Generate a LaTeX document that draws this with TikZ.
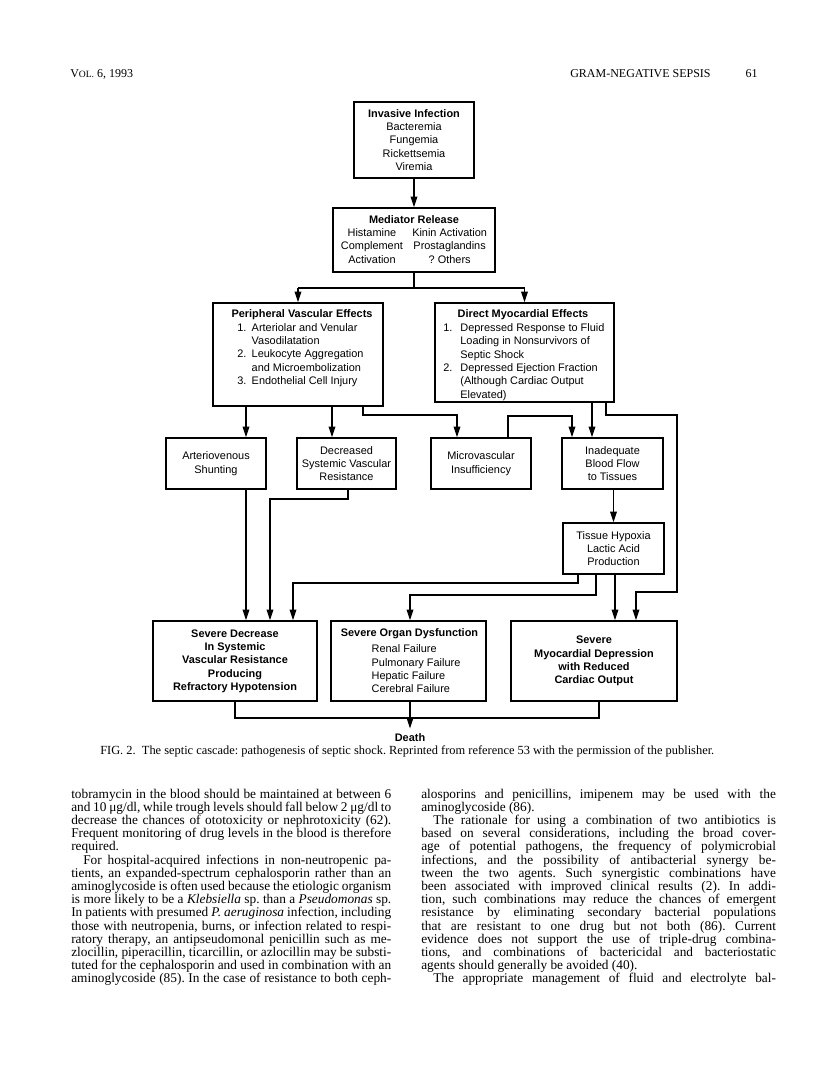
\documentclass[tikz,border=0pt]{standalone}
\usepackage{fontspec}
\setmainfont{Liberation Serif}
\newfontfamily\diagfont{Liberation Sans}
\usetikzlibrary{arrows.meta,fit,calc}
\frenchspacing
\newcommand{\bodyfont}{\fontsize{10}{10}\selectfont\frenchspacing\spaceskip=0.25em plus 0.8em minus 0.15em\relax}
\newcommand{\jlL}[1]{\makebox[240pt][s]{#1}}
\newcommand{\jlR}[1]{\makebox[266pt][s]{#1}}
\tikzset{
  box/.style={draw, line width=1.1pt, inner sep=0pt},
  dtxt/.style={font=\diagfont\fontsize{8.2}{10}\selectfont, align=center, inner sep=0pt},
  dbold/.style={font=\diagfont\bfseries\fontsize{8.2}{10}\selectfont, align=center, inner sep=0pt},
  conn/.style={line width=0.9pt},
  arr/.style={line width=0.9pt, -{Triangle[length=8pt,width=5pt]}},
  body/.style={font=\bodyfont, inner sep=0pt, anchor=base west},
  hdr/.style={font=\fontsize{9}{11}\selectfont, inner sep=0pt},
  captxt/.style={font=\fontsize{9.3}{10}\selectfont\frenchspacing, inner sep=0pt, anchor=base west},
}
\begin{document}
\begin{tikzpicture}[x=0.75pt,y=-0.75pt]
\fill[white] (0,0) rectangle (816,1079);
\useasboundingbox (0,0) rectangle (816,1079);

% running head
\node[hdr, anchor=base west] (hl) at (70,77) {V{\fontsize{7.2}{9}\selectfont OL.} 6, 1993};
\node[hdr, anchor=base west] (hr) at (570,77) {GRAM-NEGATIVE SEPSIS};
\node[hdr, anchor=base east] (pg) at (758,77) {61};

% boxes
\node[box, fit={(354,102)(474,178)}] (inv) {};
\node[box, fit={(333,208)(495,272)}] (med) {};
\node[box, fit={(213,303)(383,406)}] (per) {};
\node[box, fit={(435,303)(614,402)}] (dir) {};
\node[box, fit={(166,438)(266,489)}] (av) {};
\node[box, fit={(297,438)(396,489)}] (dsvr) {};
\node[box, fit={(431,438)(531,489)}] (mic) {};
\node[box, fit={(562,438)(663,489)}] (inad) {};
\node[box, fit={(563,523)(664,574)}] (hyp) {};
\node[box, fit={(153,621)(317,701)}] (sev) {};
\node[box, fit={(331,621)(486,701)}] (org) {};
\node[box, fit={(511,621)(677,701)}] (myo) {};

% box texts
\node[dtxt] (inv-t) at (inv) {\textbf{Invasive Infection}\\Bacteremia\\Fungemia\\Rickettsemia\\Viremia};
\node[dtxt] (med-t) at (414,240.5) {\begin{tabular}{@{}c@{\hspace{7pt}}c@{}}\multicolumn{2}{c}{\textbf{Mediator Release}}\\ Histamine & Kinin Activation\\ Complement & Prostaglandins\\ Activation & ? Others\end{tabular}};
\node[dbold] (per-h) at (302,315) {Peripheral Vascular Effects};
\node[dtxt, anchor=west] (per-t) at (237,355) {\begin{tabular}{@{}l@{\hspace{4pt}}l@{}}1. & Arteriolar and Venular\\ & Vasodilatation\\ 2. & Leukocyte Aggregation\\ & and Microembolization\\ 3. & Endothelial Cell Injury\end{tabular}};
\node[dbold] (dir-h) at (523,315) {Direct Myocardial Effects};
\node[dtxt, anchor=west] (dir-t) at (443,362) {\begin{tabular}{@{}l@{\hspace{6pt}}l@{}}1. & Depressed Response to Fluid\\ & Loading in Nonsurvivors of\\ & Septic Shock\\ 2. & Depressed Ejection Fraction\\ & (Although Cardiac Output\\ & Elevated)\end{tabular}};
\node[dtxt] (av-t) at (av) {Arteriovenous\\Shunting};
\node[dtxt] (dsvr-t) at (dsvr) {Decreased\\Systemic Vascular\\Resistance};
\node[dtxt] (mic-t) at (mic) {Microvascular\\Insufficiency};
\node[dtxt] (inad-t) at (inad) {Inadequate\\Blood Flow\\to Tissues};
\node[dtxt] (hyp-t) at (hyp) {Tissue Hypoxia\\Lactic Acid\\Production};
\node[dbold] (sev-t) at (sev) {Severe Decrease\\In Systemic\\Vascular Resistance\\Producing\\Refractory Hypotension};
\node[dbold] (org-h) at (409.5,634) {Severe Organ Dysfunction};
\node[dtxt, align=left, anchor=west] (org-t) at (371.4,668.8) {Renal Failure\\Pulmonary Failure\\Hepatic Failure\\Cerebral Failure};
\node[dbold] (myo-t) at (myo) {Severe\\Myocardial Depression\\with Reduced\\Cardiac Output};
\node[dbold, inner ysep=4pt] (death) at (410,738) {Death};

% tracks
\coordinate (r288) at (0,288);
\coordinate (r415) at (0,415);
\coordinate (r416) at (0,416);
\coordinate (r499) at (0,499);
\coordinate (r583) at (0,583);
\coordinate (r592) at (0,592);
\coordinate (r595) at (0,595);
\coordinate (r718) at (0,718);
\foreach \c in {235,246,270,293,332,348,363,410,457,508,572,578,592,596,599,606,615,636,677}
  \coordinate (c\c) at (\c,0);

% connectors
\draw[arr] (inv) -- (med);
\draw[conn] (med.south) -- (med.south |- r288);
\draw[conn] (per.north |- r288) -- (dir.north |- r288);
\draw[arr] (per.north |- r288) -- (per.north);
\draw[arr] (dir.north |- r288) -- (dir.north);
\draw[arr] (c246 |- per.south) -- (c246 |- av.north);
\draw[arr] (c332 |- per.south) -- (c332 |- dsvr.north);
\draw[arr] (c363 |- per.south) |- (c457 |- r415) -- (c457 |- mic.north);
\draw[arr] (c508 |- mic.north) |- (c572 |- r416) -- (c572 |- inad.north);
\draw[arr] (c592 |- dir.south) -- (c592 |- inad.north);
\draw[arr] (c606 |- dir.south) |- (c677 |- r415) |- (c636 |- r592) -- (c636 |- myo.north);
\draw[arr] (hyp.north |- inad.south) -- (hyp.north);
\draw[arr] (c246 |- av.south) -- (c246 |- sev.north);
\draw[arr] (c348 |- dsvr.south) |- (c270 |- r499) -- (c270 |- sev.north);
\draw[arr] (c578 |- hyp.south) |- (c293 |- r583) -- (c293 |- sev.north);
\draw[arr] (c596 |- hyp.south) |- (c410 |- r595) -- (c410 |- org.north);
\draw[arr] (c615 |- hyp.south) -- (c615 |- myo.north);
\draw[arr] (c410 |- org.south) -- (death.north);
\draw[conn] (c235 |- sev.south) |- (c599 |- r718) -- (c599 |- myo.south);

% caption
\node[captxt] (capn) at (100,754) {FIG. 2.\ \ The septic cascade: pathogenesis of septic shock. Reprinted from reference 53 with the permission of the publisher.};

% left column
\node[body] (L1) at (71,798) {\jlL{tobramycin in the blood should be maintained at between 6}};
\node[body] (L2) at (71,811.2) {\jlL{and 10 μg/dl, while trough levels should fall below 2 μg/dl to}};
\node[body] (L3) at (71,824.4) {\jlL{decrease the chances of ototoxicity or nephrotoxicity (62).}};
\node[body] (L4) at (71,837.6) {\jlL{Frequent monitoring of drug levels in the blood is therefore}};
\node[body] (L5) at (71,850.8) {required.};
\node[body] (L6) at (71,864) {\jlL{\hspace{9pt}For hospital-acquired infections in non-neutropenic pa-}};
\node[body] (L7) at (71,877.2) {\jlL{tients, an expanded-spectrum cephalosporin rather than an}};
\node[body] (L8) at (71,890.4) {\jlL{aminoglycoside is often used because the etiologic organism}};
\node[body] (L9) at (71,903.6) {\jlL{is more likely to be a \textit{Klebsiella} sp. than a \textit{Pseudomonas} sp.}};
\node[body] (L10) at (71,916.8) {\jlL{In patients with presumed \textit{P. aeruginosa} infection, including}};
\node[body] (L11) at (71,930) {\jlL{those with neutropenia, burns, or infection related to respi-}};
\node[body] (L12) at (71,943.2) {\jlL{ratory therapy, an antipseudomonal penicillin such as me-}};
\node[body] (L13) at (71,956.4) {\jlL{zlocillin, piperacillin, ticarcillin, or azlocillin may be substi-}};
\node[body] (L14) at (71,969.6) {\jlL{tuted for the cephalosporin and used in combination with an}};
\node[body] (L15) at (71,982.8) {\jlL{aminoglycoside (85). In the case of resistance to both ceph-}};

% right column
\node[body] (R1) at (421,798) {\jlR{alosporins and penicillins, imipenem may be used with the}};
\node[body] (R2) at (421,811.2) {aminoglycoside (86).};
\node[body] (R3) at (421,824.4) {\jlR{\hspace{9pt}The rationale for using a combination of two antibiotics is}};
\node[body] (R4) at (421,837.6) {\jlR{based on several considerations, including the broad cover-}};
\node[body] (R5) at (421,850.8) {\jlR{age of potential pathogens, the frequency of polymicrobial}};
\node[body] (R6) at (421,864) {\jlR{infections, and the possibility of antibacterial synergy be-}};
\node[body] (R7) at (421,877.2) {\jlR{tween the two agents. Such synergistic combinations have}};
\node[body] (R8) at (421,890.4) {\jlR{been associated with improved clinical results (2). In addi-}};
\node[body] (R9) at (421,903.6) {\jlR{tion, such combinations may reduce the chances of emergent}};
\node[body] (R10) at (421,916.8) {\jlR{resistance by eliminating secondary bacterial populations}};
\node[body] (R11) at (421,930) {\jlR{that are resistant to one drug but not both (86). Current}};
\node[body] (R12) at (421,943.2) {\jlR{evidence does not support the use of triple-drug combina-}};
\node[body] (R13) at (421,956.4) {\jlR{tions, and combinations of bactericidal and bacteriostatic}};
\node[body] (R14) at (421,969.6) {agents should generally be avoided (40).};
\node[body] (R15) at (421,982.8) {\jlR{\hspace{9pt}The appropriate management of fluid and electrolyte bal-}};
\end{tikzpicture}
\end{document}
